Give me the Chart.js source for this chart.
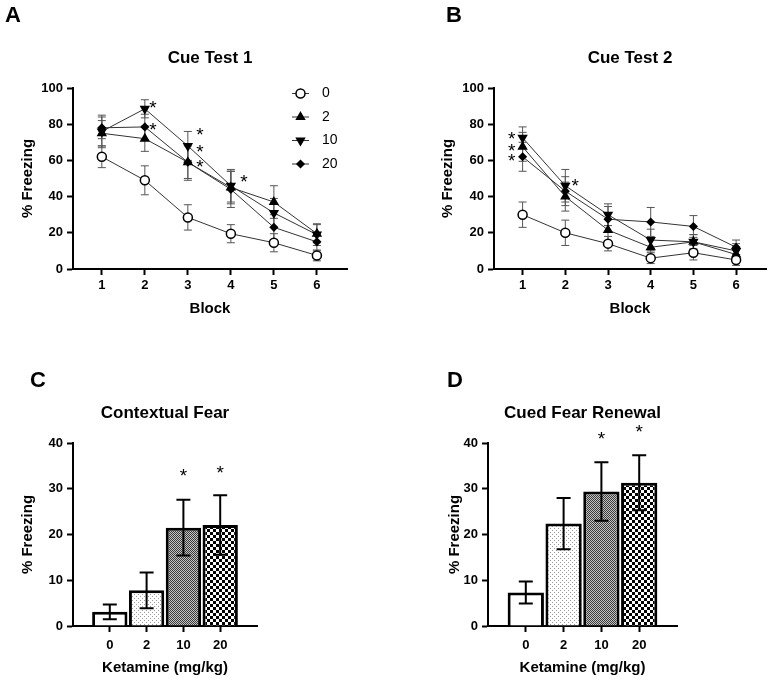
<!DOCTYPE html>
<html>
<head>
<meta charset="utf-8">
<script src="https://cdn.jsdelivr.net/npm/chart.js@4"></script>
<style>
  body { margin: 0; background: #fff; width: 772px; height: 680px; position: relative; overflow: hidden; }
  canvas { position: absolute; }
</style>
</head>
<body>
<canvas id="cA" width="386" height="340" style="left:0;top:0"></canvas>
<canvas id="cB" width="386" height="340" style="left:386px;top:0"></canvas>
<canvas id="cC" width="386" height="340" style="left:0;top:340px"></canvas>
<canvas id="cD" width="386" height="340" style="left:386px;top:340px"></canvas>
<script>
// ---- data ----
const blocks = [1, 2, 3, 4, 5, 6];
const doses = ['0', '2', '10', '20'];

// Cue Test 1 (% freezing per block, mean and SEM)
const cue1Dose0 = [62, 49, 28.5, 19.5, 14.5, 7.5];
const cue1Dose2 = [75, 72, 59, 45, 37, 19.5];
const cue1Dose10 = [76, 88.5, 68, 46, 31, 19];
const cue1Dose20 = [78, 78.5, 59, 44, 23, 15];
const cue1Err0 = [6, 8, 7, 5, 5, 3];
const cue1Err2 = [7, 7, 9, 9, 9, 5];
const cue1Err10 = [9, 5, 8, 9, 8, 6];
const cue1Err20 = [6, 7, 10, 10, 7, 5];

// Cue Test 2
const cue2Dose0 = [30, 20, 14, 6, 9, 5];
const cue2Dose2 = [67.5, 40, 21.5, 12, 15, 8];
const cue2Dose10 = [72.5, 46, 30, 16, 15, 10];
const cue2Dose20 = [62, 43, 27.5, 26, 23.5, 12];
const cue2Err0 = [7, 7, 4, 3, 4, 3];
const cue2Err2 = [8, 8, 6, 5, 4, 3];
const cue2Err10 = [6, 9, 6, 6, 4, 4];
const cue2Err20 = [8, 8, 7, 8, 6, 4];

// Contextual fear / cued fear renewal
const contextMean = [3.1, 7.8, 21.5, 22.1];
const contextErr = [1.6, 3.9, 6.1, 6.5];
const renewalMean = [7.3, 22.4, 29.4, 31.3];
const renewalErr = [2.4, 5.6, 6.4, 6.0];

// significance stars: [block or dose, % freezing]
const cue1Stars = [[2, 91], [2, 79], [3, 76], [3, 67], [3, 58.5], [4, 50.5]];
const cue2Stars = [[1, 74], [1, 67.5], [1, 62], [2, 48]];
const contextStars = [['10', 33.6], ['20', 34.4]];
const renewalStars = [['10', 41.7], ['20', 43.2]];

const lineTicks = [0, 20, 40, 60, 80, 100];
const barTicks = [0, 10, 20, 30, 40];

// ---- drawing ----
Chart.defaults.font.family = "'Liberation Sans', Arial, sans-serif";
Chart.defaults.color = '#000';
Chart.defaults.animation = false;

const FONT = "'Liberation Sans', Arial, sans-serif";

function marker(ctx, style, x, y, r, rot, fill) {
  ctx.save();
  ctx.fillStyle = fill;
  ctx.strokeStyle = '#000';
  ctx.lineWidth = 1.5;
  if (Chart.helpers && Chart.helpers.drawPoint) {
    Chart.helpers.drawPoint(ctx, { pointStyle: style, radius: r, rotation: rot, borderWidth: 1.5 }, x, y);
  }
  ctx.restore();
}

function drawErrors(chart, o) {
  const ctx = chart.ctx, ys = chart.scales.y;
  ctx.save();
  ctx.strokeStyle = o.errColor;
  ctx.lineWidth = o.errWidth;
  o.errors.forEach((errs, di) => {
    const meta = chart.getDatasetMeta(di);
    meta.data.forEach((el, i) => {
      const e = errs[i];
      const d = chart.data.datasets[di].data[i];
      const v = d !== null && typeof d === 'object' ? d.y : d;
      if (e == null || v == null) return;
      const x = el.x, y1 = ys.getPixelForValue(v + e), y2 = ys.getPixelForValue(v - e);
      ctx.beginPath();
      ctx.moveTo(x, y1); ctx.lineTo(x, y2);
      ctx.moveTo(x - o.cap, y1); ctx.lineTo(x + o.cap, y1);
      ctx.moveTo(x - o.cap, y2); ctx.lineTo(x + o.cap, y2);
      ctx.stroke();
    });
  });
  ctx.restore();
}

const decor = {
  id: 'decor',
  beforeDatasetsDraw(chart, args, o) { if (o.errors && !o.errOnTop) drawErrors(chart, o); },
  afterDatasetsDraw(chart, args, o) { if (o.errors && o.errOnTop) drawErrors(chart, o); },
  afterDraw(chart, args, o) {
    const ctx = chart.ctx, a = chart.chartArea;
    ctx.save();
    // panel letter
    ctx.fillStyle = '#000';
    ctx.font = 'bold 22px ' + FONT;
    ctx.textAlign = 'left';
    ctx.textBaseline = 'alphabetic';
    ctx.fillText(o.letter, o.letterX, o.letterY);
    // title
    ctx.font = 'bold 17px ' + FONT;
    ctx.textAlign = 'center';
    ctx.textBaseline = 'middle';
    ctx.fillText(o.title, (a.left + a.right) / 2, a.top - 30);
    // stars
    ctx.font = '19px ' + FONT;
    const labels = chart.data.labels || [];
    (o.stars || []).forEach((s, i) => {
      const xv = typeof s[0] === 'string' ? labels.indexOf(s[0]) : s[0];
      const x = chart.scales.x.getPixelForValue(xv) + (o.starDx ? o.starDx[i] : 0);
      const y = chart.scales.y.getPixelForValue(s[1]);
      ctx.textBaseline = 'alphabetic';
      ctx.fillText('*', x, y + 10);
    });
    // legend
    if (o.legend) {
      const lx = a.right - 55;
      chart.data.datasets.forEach((ds, i) => {
        const y = a.top + 5.5 + i * 23.5;
        ctx.strokeStyle = '#333';
        ctx.lineWidth = 1;
        ctx.beginPath(); ctx.moveTo(lx, y); ctx.lineTo(lx + 17, y); ctx.stroke();
        marker(ctx, ds.pointStyle, lx + 8.5, y, ds.pointRadius, ds.pointRotation || 0, ds.pointBackgroundColor);
        ctx.fillStyle = '#000';
        ctx.font = '14px ' + FONT;
        ctx.textAlign = 'left';
        ctx.textBaseline = 'middle';
        ctx.fillText(ds.label, lx + 30, y);
      });
    }
    ctx.restore();
  }
};

function yAxis(max, ticks, width, titlePad) {
  return {
    min: 0, max: max,
    afterBuildTicks: s => { s.ticks = ticks.map(v => ({ value: v })); },
    afterFit: s => { s.width = width; },
    border: { color: '#000', width: 2 },
    grid: { drawOnChartArea: false, tickLength: 6, tickColor: '#000', tickWidth: 2 },
    ticks: { font: { size: 13, weight: 'bold' }, padding: 4, color: '#000' },
    title: { display: true, text: '% Freezing', font: { size: 15, weight: 'bold' }, padding: { top: titlePad, bottom: 0 } }
  };
}

function series(label, vals, style, r, rot, fill) {
  return {
    label: label,
    data: blocks.map((b, i) => ({ x: b, y: vals[i] })),
    borderColor: '#333', borderWidth: 1, tension: 0,
    pointStyle: style, pointRadius: r, pointRotation: rot,
    pointBackgroundColor: fill, pointBorderColor: '#000', pointBorderWidth: 1.5
  };
}

function lineChart(id, means, errs, o) {
  return new Chart(document.getElementById(id), {
    type: 'line',
    data: {
      datasets: [
        series(doses[0], means[0], 'circle', 4.5, 0, '#fff'),
        series(doses[1], means[1], 'triangle', 4.5, 0, '#000'),
        series(doses[2], means[2], 'triangle', 4.5, 180, '#000'),
        series(doses[3], means[3], 'rectRot', 3.5, 0, '#000')
      ]
    },
    options: {
      responsive: false,
      layout: { padding: o.padding },
      plugins: {
        legend: { display: false }, tooltip: { enabled: false },
        decor: Object.assign({ errors: errs, errColor: '#555', errWidth: 1, cap: 4 }, o.decor)
      },
      scales: {
        x: {
          type: 'linear', min: 0.33, max: 6.7,
          afterBuildTicks: s => { s.ticks = blocks.map(v => ({ value: v })); },
          afterFit: s => { s.height = 50; },
          border: { color: '#000', width: 2 },
          grid: { drawOnChartArea: false, tickLength: 6, tickColor: '#000', tickWidth: 2 },
          ticks: { font: { size: 13, weight: 'bold' }, padding: 3, color: '#000' },
          title: { display: true, text: 'Block', font: { size: 15, weight: 'bold' }, padding: { top: 0, bottom: 1 } }
        },
        y: yAxis(100, lineTicks, 61, o.titlePad)
      }
    },
    plugins: [decor]
  });
}

function pattern(kind) {
  const c = document.createElement('canvas');
  const g = c.getContext('2d');
  if (kind === 'dots') {
    c.width = 4; c.height = 4;
    g.fillStyle = '#fff'; g.fillRect(0, 0, 4, 4);
    g.fillStyle = '#9a9a9a'; g.fillRect(0, 0, 1, 1); g.fillRect(2, 2, 1, 1);
  } else if (kind === 'fine') {
    c.width = 2; c.height = 2;
    g.fillStyle = '#c4c4c4'; g.fillRect(0, 0, 2, 2);
    g.fillStyle = '#3a3a3a'; g.fillRect(0, 0, 1, 1); g.fillRect(1, 1, 1, 1);
  } else {
    c.width = 6; c.height = 6;
    g.fillStyle = '#fff'; g.fillRect(0, 0, 6, 6);
    g.fillStyle = '#000'; g.fillRect(0, 0, 3, 3); g.fillRect(3, 3, 3, 3);
  }
  return g.createPattern(c, 'repeat');
}

function barChart(id, means, errs, o) {
  const labels = [''].concat(doses, ['']);
  const data = [null].concat(means, [null]);
  const err = [null].concat(errs, [null]);
  return new Chart(document.getElementById(id), {
    type: 'bar',
    data: {
      labels: labels,
      datasets: [{
        data: data,
        backgroundColor: [null, '#fff', pattern('dots'), pattern('fine'), pattern('checker'), null],
        borderColor: '#000', borderWidth: 3,
        categoryPercentage: 1, barPercentage: 0.96
      }]
    },
    options: {
      responsive: false,
      layout: { padding: o.padding },
      plugins: {
        legend: { display: false }, tooltip: { enabled: false },
        decor: Object.assign({ errors: [err], errColor: '#000', errWidth: 2, cap: 7, errOnTop: true }, o.decor)
      },
      scales: {
        x: {
          offset: false,
          afterFit: s => { s.height = 52; },
          border: { color: '#000', width: 2 },
          grid: {
            offset: false, drawOnChartArea: false, tickLength: 6, tickWidth: 2,
            tickColor: c => (labels[c.index] ? '#000' : 'rgba(0,0,0,0)')
          },
          ticks: { font: { size: 13, weight: 'bold' }, padding: 6, color: '#000' },
          title: { display: true, text: 'Ketamine (mg/kg)', font: { size: 15, weight: 'bold' }, padding: { top: 0, bottom: 1 } }
        },
        y: yAxis(40, barTicks, o.yWidth, o.titlePad)
      }
    },
    plugins: [decor]
  });
}

lineChart('cA', [cue1Dose0, cue1Dose2, cue1Dose10, cue1Dose20], [cue1Err0, cue1Err2, cue1Err10, cue1Err20], {
  padding: { left: 12, top: 88, right: 39, bottom: 21 }, titlePad: 7,
  decor: { letter: 'A', letterX: 5, letterY: 22, title: 'Cue Test 1', legend: true,
           stars: cue1Stars, starDx: [8, 8, 12, 12, 12, 13] }
});
lineChart('cB', [cue2Dose0, cue2Dose2, cue2Dose10, cue2Dose20], [cue2Err0, cue2Err2, cue2Err10, cue2Err20], {
  padding: { left: 47, top: 88, right: 5, bottom: 21 }, titlePad: 6,
  decor: { letter: 'B', letterX: 60, letterY: 22, title: 'Cue Test 2', legend: false,
           stars: cue2Stars, starDx: [-11, -11, -11, 10] }
});
barChart('cC', contextMean, contextErr, {
  padding: { left: 12, top: 103, right: 129, bottom: 2 }, yWidth: 61, titlePad: 7,
  decor: { letter: 'C', letterX: 30, letterY: 47, title: 'Contextual Fear', stars: contextStars }
});
barChart('cD', renewalMean, renewalErr, {
  padding: { left: 50, top: 103, right: 95, bottom: 2 }, yWidth: 52, titlePad: 10,
  decor: { letter: 'D', letterX: 61, letterY: 47, title: 'Cued Fear Renewal', stars: renewalStars }
});
</script>
</body>
</html>
